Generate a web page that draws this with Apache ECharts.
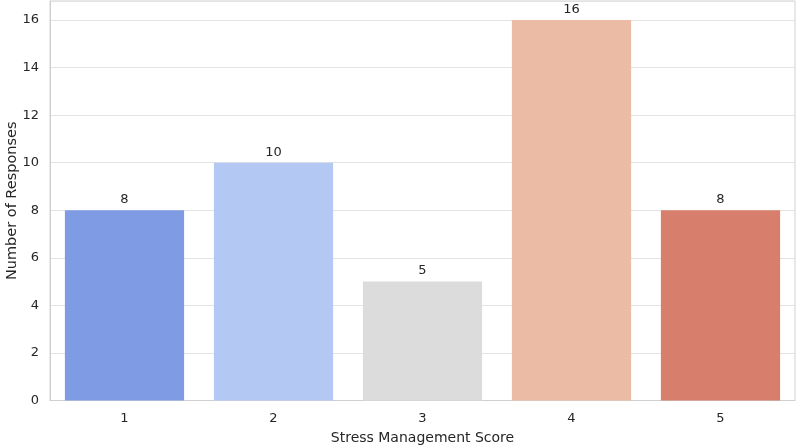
<!DOCTYPE html>
<html>
<head>
<meta charset="utf-8">
<script src="https://cdn.jsdelivr.net/npm/echarts@6/dist/echarts.min.js"></script>
<style>
html,body{margin:0;padding:0;background:#fff;}
#chart{width:797px;height:446px;}
</style>
</head>
<body>
<div id="chart"></div>
<script>
const categories = ['1', '2', '3', '4', '5'];
const responses = [8, 10, 5, 16, 8];
const barColors = ['#7f9be3', '#b3c8f3', '#dcdcdc', '#ebbba5', '#d77f6c'];
const yTicks = [0, 2, 4, 6, 8, 10, 12, 14, 16];

const chart = echarts.init(document.getElementById('chart'), null, {renderer: 'canvas'});
const font = 'DejaVu Sans';
chart.setOption({
  animation: false,
  backgroundColor: '#ffffff',
  grid: {left: 50, right: 2, top: 1, bottom: 45.5, show: true, borderColor: '#d0d0d0', borderWidth: 1,
    containLabel: false, outerBoundsMode: 'none'},
  xAxis: {
    type: 'category',
    data: categories,
    name: 'Stress Management Score',
    nameLocation: 'middle',
    nameGap: 31,
    nameMoveOverlap: false,
    nameTextStyle: {fontFamily: font, fontSize: 14, color: '#262626'},
    axisLine: {show: true, lineStyle: {color: '#d0d0d0', width: 1}},
    axisTick: {show: false},
    axisLabel: {fontFamily: font, fontSize: 13, color: '#262626', margin: 12},
    splitLine: {show: false}
  },
  yAxis: {
    type: 'value',
    min: 0,
    max: 16.8,
    interval: 2,
    name: 'Number of Responses',
    nameLocation: 'middle',
    nameGap: 30,
    nameMoveOverlap: false,
    nameTextStyle: {fontFamily: font, fontSize: 14.5, color: '#262626'},
    axisLine: {show: true, lineStyle: {color: '#d0d0d0', width: 1}},
    axisTick: {show: false},
    axisLabel: {fontFamily: font, fontSize: 13, color: '#262626', margin: 11,
      formatter: v => (yTicks.includes(v) ? String(v) : '')},
    splitLine: {show: true, lineStyle: {color: '#e3e3e3', width: 1}}
  },
  series: [{
    type: 'bar',
    data: responses.map((v, i) => ({value: v, itemStyle: {color: barColors[i]}})),
    barWidth: '80%',
    label: {show: true, position: 'top', distance: 4, fontFamily: font, fontSize: 13, color: '#262626'}
  }]
});
</script>
</body>
</html>
